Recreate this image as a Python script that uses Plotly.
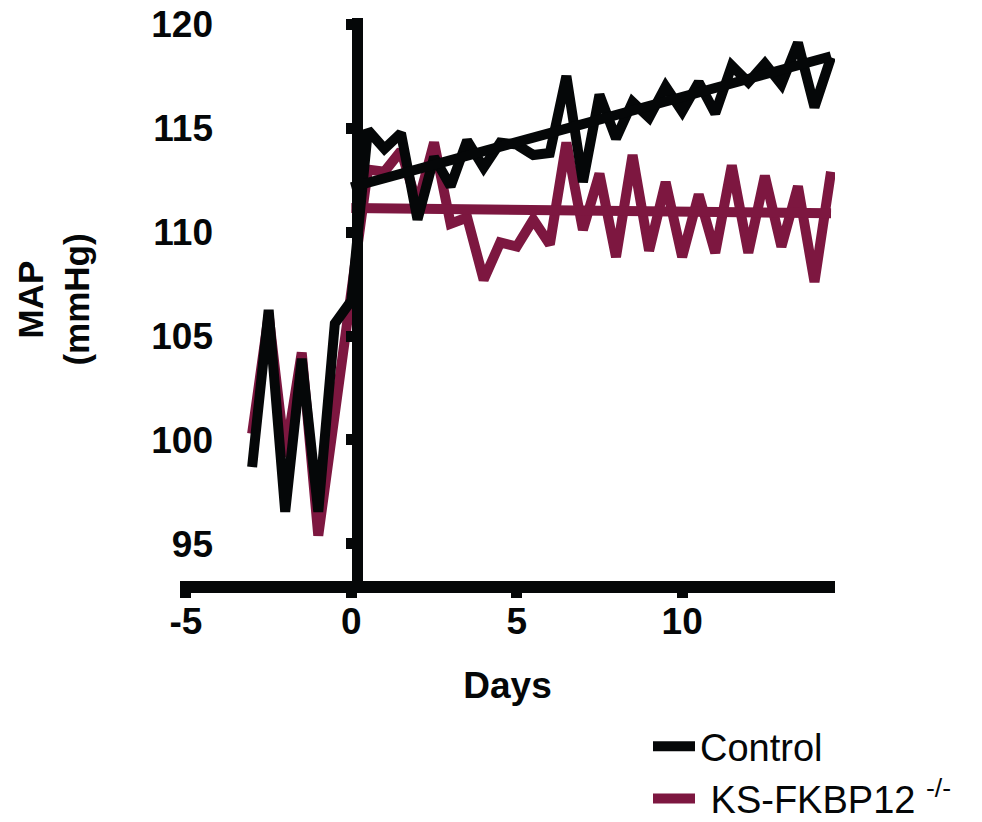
import plotly.graph_objects as go

days = [-3, -2.5, -2, -1.5, -1, -0.5, 0,
        0.5, 1, 1.5, 2, 2.5, 3, 3.5, 4, 4.5, 5, 5.5, 6, 6.5, 7,
        7.5, 8, 8.5, 9, 9.5, 10, 10.5, 11, 11.5, 12, 12.5, 13, 13.5, 14, 14.5]

control = [98.7, 106.25, 96.55, 103.9, 96.55, 105.6, 106.7,
           114.9, 114.0, 114.75, 110.6, 113.6, 112.2, 114.4, 113.1, 114.3, 114.2, 113.7, 113.8, 117.5, 112.4,
           116.6, 114.5, 116.25, 115.5, 117.0, 115.8, 117.2, 115.7, 118.0, 117.2, 118.1, 117.1, 119.1, 116.0, 118.4]

ko = [100.3, 106.0, 99.2, 104.2, 95.4, 101.3, 107.1,
      113.0, 112.9, 113.9, 111.3, 114.3, 110.4, 110.7, 107.7, 109.5, 109.3, 110.6, 109.4, 114.3, 110.1,
      112.8, 108.8, 113.7, 109.1, 112.4, 108.8, 111.8, 109.0, 113.2, 109.0, 112.7, 109.3, 112.2, 107.6, 112.9]

trend_days = [0, 14.5]
control_trend = [112.15, 118.45]
ko_trend = [111.15, 110.9]

x_ticks = [-5, 0, 5, 10]
x_tick_labels = ["-5", "0", "5", "10"]
y_ticks = [95, 100, 105, 110, 115, 120]
y_tick_labels = ["95", "100", "105", "110", "115", "120"]

BLACK = "#050708"
MAROON = "#7d1740"
FONT = "Liberation Sans, Arial, sans-serif"
LW = 10

OFF = 8  # page body margin
W, H = 982 - OFF, 822 - OFF
PL, PR, PT, PB = 180, 835, 18, 581   # plot area in screen pixels
pw, ph = PR - PL, PB - PT


def fx(px):
    return (px - PL) / pw


def fy(py):
    return (PB - py) / ph


fig = go.Figure()
fig.add_trace(go.Scatter(x=days, y=ko, mode="lines", name=" KS-FKBP12 <sup>-/-</sup>",
                         line=dict(color=MAROON, width=LW), legendrank=2))
fig.add_trace(go.Scatter(x=trend_days, y=ko_trend, mode="lines", showlegend=False,
                         line=dict(color=MAROON, width=LW)))
fig.add_trace(go.Scatter(x=days, y=control, mode="lines", name="Control",
                         line=dict(color=BLACK, width=LW), legendrank=1))
fig.add_trace(go.Scatter(x=trend_days, y=control_trend, mode="lines", showlegend=False,
                         line=dict(color=BLACK, width=LW)))
fig.add_trace(go.Scatter(x=[None], y=[None], yaxis="y2", showlegend=False, hoverinfo="skip"))

yr = [93.22, 120.29]
tickfont = dict(size=37, weight="bold", family=FONT, color=BLACK)

fig.update_layout(
    width=W, height=H,
    margin=dict(l=PL - OFF, r=982 - PR, t=PT - OFF, b=822 - PB, autoexpand=False),
    paper_bgcolor="white", plot_bgcolor="white",
    font=dict(family=FONT, color=BLACK),
    xaxis=dict(range=[-5.18, 14.62], domain=[0, 1], automargin=False,
               tickvals=x_ticks, ticktext=x_tick_labels, ticklabeloverflow="allow",
               showline=True, linewidth=12, linecolor=BLACK,
               ticks="outside", ticklen=5, tickwidth=11, tickcolor=BLACK,
               ticklabelstandoff=-8,
               tickfont=tickfont, showgrid=False, zeroline=False,
               title=dict(text="Days", font=dict(size=37, weight="bold", family=FONT, color=BLACK),
                          standoff=36)),
    yaxis=dict(range=yr, anchor="free", position=fx(213), automargin=False,
               tickvals=y_ticks, ticktext=y_tick_labels, ticklabeloverflow="allow",
               showline=False, ticks="", showgrid=False, zeroline=False,
               tickfont=tickfont,
               title=dict(text="MAP<br>(mmHg)", font=dict(size=35, weight="bold", family=FONT, color=BLACK),
                          standoff=50)),
    yaxis2=dict(range=yr, overlaying="y", anchor="free", position=fx(357), side="left",
                automargin=False, tickvals=y_ticks, showticklabels=False,
                showline=True, linewidth=11, linecolor=BLACK,
                ticks="outside", ticklen=6, tickwidth=11, tickcolor=BLACK,
                showgrid=False, zeroline=False),
    legend=dict(x=fx(648), y=fy(715), xanchor="left", yanchor="top",
                font=dict(size=38, family=FONT, color=BLACK), bgcolor="rgba(0,0,0,0)",
                itemwidth=42, tracegroupgap=0),
    showlegend=True,
)

fig.write_html("out.html")
